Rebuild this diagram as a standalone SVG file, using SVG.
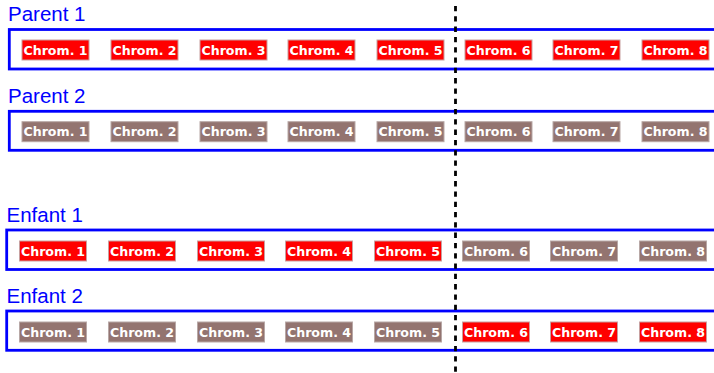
<svg xmlns="http://www.w3.org/2000/svg" width="714" height="373" viewBox="0 0 714 373">
<style>
.lbl{font-family:"Liberation Sans",Arial,sans-serif;font-size:20.5px;fill:#0000ff}
.frame{fill:none;stroke:#0000ff;stroke-width:2.8}
.red{fill:#ff0000;stroke:#c8a0a0;stroke-width:1}
.brn{fill:#937470;stroke:#b8a8a6;stroke-width:1}
.ct{font-family:"DejaVu Sans",sans-serif;font-weight:bold;font-size:12.6px;fill:#ffffff;text-anchor:middle}
.cut{stroke:#000;stroke-width:2.8;stroke-dasharray:5.3,5;fill:none}
</style>
<g id="parent1">
<text class="lbl" x="8" y="21">Parent 1</text>
<rect class="frame" x="9.3" y="29.5" width="720" height="39.5"/>
<g id="p1c1"><rect class="red" x="22" y="40" width="67" height="20"/><text class="ct" x="55.5" y="54.5">Chrom. 1</text></g>
<g id="p1c2"><rect class="red" x="111" y="40" width="67" height="20"/><text class="ct" x="144.5" y="54.5">Chrom. 2</text></g>
<g id="p1c3"><rect class="red" x="200" y="40" width="67" height="20"/><text class="ct" x="233.5" y="54.5">Chrom. 3</text></g>
<g id="p1c4"><rect class="red" x="288" y="40" width="67" height="20"/><text class="ct" x="321.5" y="54.5">Chrom. 4</text></g>
<g id="p1c5"><rect class="red" x="377" y="40" width="67" height="20"/><text class="ct" x="410.5" y="54.5">Chrom. 5</text></g>
<g id="p1c6"><rect class="red" x="465" y="40" width="67" height="20"/><text class="ct" x="498.5" y="54.5">Chrom. 6</text></g>
<g id="p1c7"><rect class="red" x="553" y="40" width="67" height="20"/><text class="ct" x="586.5" y="54.5">Chrom. 7</text></g>
<g id="p1c8"><rect class="red" x="642" y="40" width="67" height="20"/><text class="ct" x="675.5" y="54.5">Chrom. 8</text></g>
</g>
<g id="parent2">
<text class="lbl" x="8" y="102.7">Parent 2</text>
<rect class="frame" x="9.3" y="111.3" width="720" height="39"/>
<g id="p2c1"><rect class="brn" x="22" y="121.7" width="67" height="20"/><text class="ct" x="55.5" y="136.2">Chrom. 1</text></g>
<g id="p2c2"><rect class="brn" x="111" y="121.7" width="67" height="20"/><text class="ct" x="144.5" y="136.2">Chrom. 2</text></g>
<g id="p2c3"><rect class="brn" x="200" y="121.7" width="67" height="20"/><text class="ct" x="233.5" y="136.2">Chrom. 3</text></g>
<g id="p2c4"><rect class="brn" x="288" y="121.7" width="67" height="20"/><text class="ct" x="321.5" y="136.2">Chrom. 4</text></g>
<g id="p2c5"><rect class="brn" x="377" y="121.7" width="67" height="20"/><text class="ct" x="410.5" y="136.2">Chrom. 5</text></g>
<g id="p2c6"><rect class="brn" x="465" y="121.7" width="67" height="20"/><text class="ct" x="498.5" y="136.2">Chrom. 6</text></g>
<g id="p2c7"><rect class="brn" x="553" y="121.7" width="67" height="20"/><text class="ct" x="586.5" y="136.2">Chrom. 7</text></g>
<g id="p2c8"><rect class="brn" x="642" y="121.7" width="67" height="20"/><text class="ct" x="675.5" y="136.2">Chrom. 8</text></g>
</g>
<g id="enfant1">
<text class="lbl" x="6.5" y="222">Enfant 1</text>
<rect class="frame" x="6.7" y="230" width="720" height="39.5"/>
<g id="e1c1"><rect class="red" x="19.5" y="241" width="67" height="20"/><text class="ct" x="53" y="255.5">Chrom. 1</text></g>
<g id="e1c2"><rect class="red" x="108.5" y="241" width="67" height="20"/><text class="ct" x="142" y="255.5">Chrom. 2</text></g>
<g id="e1c3"><rect class="red" x="197.5" y="241" width="67" height="20"/><text class="ct" x="231" y="255.5">Chrom. 3</text></g>
<g id="e1c4"><rect class="red" x="285.5" y="241" width="67" height="20"/><text class="ct" x="319" y="255.5">Chrom. 4</text></g>
<g id="e1c5"><rect class="red" x="374.5" y="241" width="67" height="20"/><text class="ct" x="408" y="255.5">Chrom. 5</text></g>
<g id="e1c6"><rect class="brn" x="462.5" y="241" width="67" height="20"/><text class="ct" x="496" y="255.5">Chrom. 6</text></g>
<g id="e1c7"><rect class="brn" x="550.5" y="241" width="67" height="20"/><text class="ct" x="584" y="255.5">Chrom. 7</text></g>
<g id="e1c8"><rect class="brn" x="639.5" y="241" width="67" height="20"/><text class="ct" x="673" y="255.5">Chrom. 8</text></g>
</g>
<g id="enfant2">
<text class="lbl" x="6.5" y="303">Enfant 2</text>
<rect class="frame" x="6.7" y="311" width="720" height="39.3"/>
<g id="e2c1"><rect class="brn" x="19.5" y="322" width="67" height="20"/><text class="ct" x="53" y="336.5">Chrom. 1</text></g>
<g id="e2c2"><rect class="brn" x="108.5" y="322" width="67" height="20"/><text class="ct" x="142" y="336.5">Chrom. 2</text></g>
<g id="e2c3"><rect class="brn" x="197.5" y="322" width="67" height="20"/><text class="ct" x="231" y="336.5">Chrom. 3</text></g>
<g id="e2c4"><rect class="brn" x="285.5" y="322" width="67" height="20"/><text class="ct" x="319" y="336.5">Chrom. 4</text></g>
<g id="e2c5"><rect class="brn" x="374.5" y="322" width="67" height="20"/><text class="ct" x="408" y="336.5">Chrom. 5</text></g>
<g id="e2c6"><rect class="red" x="462.5" y="322" width="67" height="20"/><text class="ct" x="496" y="336.5">Chrom. 6</text></g>
<g id="e2c7"><rect class="red" x="550.5" y="322" width="67" height="20"/><text class="ct" x="584" y="336.5">Chrom. 7</text></g>
<g id="e2c8"><rect class="red" x="639.5" y="322" width="67" height="20"/><text class="ct" x="673" y="336.5">Chrom. 8</text></g>
</g>
<g id="connectors">
<line class="cut" x1="455.5" y1="6" x2="455.5" y2="373"/>
</g>
</svg>
